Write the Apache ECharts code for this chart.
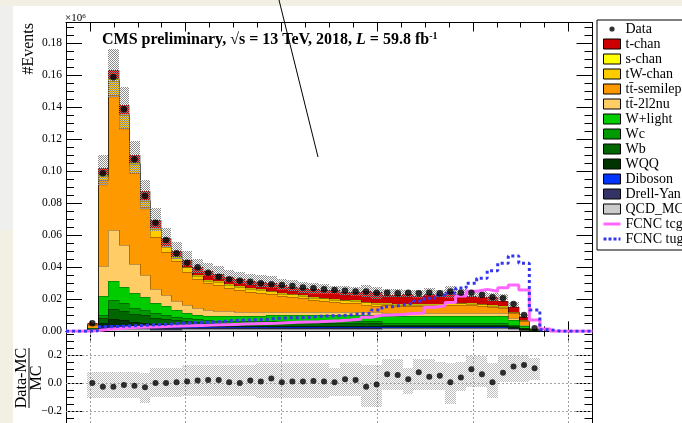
<!DOCTYPE html>
<html>
<head>
<meta charset="utf-8">
<title>#Events</title>
<script src="https://cdn.jsdelivr.net/npm/echarts@6.0.0/dist/echarts.min.js"></script>
<style>
  html, body { margin: 0; padding: 0; background: #ffffff; overflow: hidden; }
  #chart { width: 682px; height: 423px; }
</style>
</head>
<body>
<div id="chart"></div>
<script>
// ---------------- binning ----------------
const xMin = -0.05;
const xMax = 1.05;
const nBins = 50;

// ---------------- tick labels ----------------
const xMajorTicks = [0, 0.2, 0.4, 0.6, 0.8, 1.0];
const yMainMax = 0.193;                 // upper panel, units of 10^6 events
const ratioMin = -0.2857;               // lower panel range (its lower edge is below the page)
const ratioMax = 0.3679;
const ratioTicks = [-0.2, 0, 0.2];
const ratioMinorTicks = [-0.25, -0.2, -0.15, -0.1, -0.05, 0, 0.05, 0.1, 0.15, 0.2, 0.25, 0.3, 0.35];

// ---------------- stacked backgrounds (10^6 events per bin) ----------------
const qcdMC = [0,0, .0003,.0012,.0015,.0014,.0013,.0012,.0011,.0011,.0011,.0012,.0013,.0014,.0015,.0015,.0015,.0015,.0015,.0015,
  .0015,.0015,.0015,.0015,.0015,.0015,.0015,.0015,.0015,.0015,
  .0018,.0018,.0018,.0018,.0018,.0018,.0018,.0018,.0018,.0018,.0018,.0018,
  .0015,.0008,.0002, 0,0,0,0,0];
const drellYan = [0,0, .0002,.0015,.0020,.0018,.0015,.0014,.0012,.0011,.0010,.0009,.0008,.0007,.0007,.0006,.0006,.0006,.0006,.0006,
  .0006,.0006,.0006,.0006,.0006,.0006,.0006,.0006,.0006,.0006,
  .0004,.0004,.0004,.0004,.0004,.0004,.0004,.0004,.0004,.0004,.0004,.0004,
  .0003,.0002,0, 0,0,0,0,0];
const diboson = [0,0, .0001,.0004,.0006,.0005,.0005,.0005,.0004,.0004,.0004,.0004,.0004,.0003,.0003,.0003,.0003,.0003,.0003,.0003,
  .0003,.0003,.0003,.0003,.0003,.0003,.0003,.0003,.0003,.0003,
  .0002,.0002,.0002,.0002,.0002,.0002,.0002,.0002,.0002,.0002,.0002,.0002,
  .0001,.0001,0, 0,0,0,0,0];
const wQQ = [0,0, .0003,.0020,.0035,.0031,.0027,.0024,.0020,.0018,.0015,.0013,.0011,.0011,.0010,.0010,.0010,.0010,.0010,.0010,
  .0010,.0010,.0010,.0010,.0010,.0010,.0010,.0010,.0010,.0010,
  .0008,.0008,.0008,.0008,.0008,.0008,.0008,.0008,.0008,.0008,.0008,.0008,
  .0007,.0004,.0001, 0,0,0,0,0];
const wB = [0,0, .0003,.0030,.0065,.0060,.0048,.0045,.0038,.0034,.0029,.0025,.0022,.0020,.0018,.0017,.0016,.0016,.0016,.0016,
  .0016,.0016,.0016,.0016,.0016,.0016,.0016,.0016,.0016,.0016,
  .0010,.0010,.0010,.0010,.0010,.0010,.0010,.0010,.0010,.0010,.0010,.0010,
  .0007,.0004,.0001, 0,0,0,0,0];
const wC = [0,0, .0002,.0021,.0055,.0047,.0036,.0033,.0027,.0024,.0020,.0018,.0016,.0015,.0014,.0014,.0014,.0014,.0014,.0014,
  .0014,.0014,.0014,.0014,.0014,.0014,.0014,.0014,.0014,.0014,
  .0008,.0008,.0008,.0008,.0008,.0008,.0008,.0008,.0008,.0008,.0008,.0008,
  .0006,.0003,.0001, 0,0,0,0,0];
const wLight = [0,0, .0004,.0120,.0118,.0104,.0097,.0083,.0063,.0056,.0044,.0035,.0028,.0026,.0028,.0028,.0030,.0032,.0034,.0036,
  .0038,.0038,.0038,.0038,.0038,.0038,.0038,.0038,.0038,.0038,
  .0046,.0046,.0046,.0046,.0046,.0046,.0046,.0046,.0046,.0046,.0046,.0046,
  .0032,.0010,.0002, 0,0,0,0,0];
const ttDilep = [0,0, .0004,.0188,.0319,.0260,.0178,.0136,.0087,.0069,.0058,.0048,.0042,.0037,.0035,.0031,.0028,.0026,.0024,.0022,
  .0021,.0021,.0021,.0021,.0021,.0021,.0021,.0021,.0021,.0021,
  .0017,.0017,.0017,.0017,.0017,.0017,.0017,.0017,.0017,.0017,.0017,.0017,
  .0010,.0008,.0001, 0,0,0,0,0];
const ttSemilep = [0,0, .0020,.0536,.0844,.0730,.0569,.0423,.0329,.0270,.0248,.0209,.0183,.0167,.0158,.0146,.0138,.0123,.0117,.0112,
  .0095,.0092,.0084,.0072,.0067,.0059,.0055,.0052,.0042,.0034,
  .0050,.0045,.0044,.0044,.0045,.0045,.0053,.0054,.0050,.0046,.0039,.0033,
  .0032,.0027,.0005, 0,0,0,0,0];
const tWchan = [0,0, .0003,.0025,.0090,.0080,.0055,.0040,.0047,.0031,.0022,.0026,.0020,.0016,.0020,.0020,.0016,.0018,.0020,.0016,
  .0016,.0016,.0016,.0016,.0016,.0016,.0016,.0016,.0016,.0016,
  .0009,.0009,.0009,.0009,.0009,.0009,.0009,.0009,.0009,.0009,.0009,.0009,
  .0005,.0003,.0001, 0,0,0,0,0];
const sChan = [0,0, .0001,.0006,.0010,.0009,.0007,.0006,.0006,.0005,.0005,.0005,.0005,.0005,.0005,.0005,.0005,.0005,.0005,.0005,
  .0004,.0004,.0004,.0004,.0004,.0004,.0004,.0004,.0004,.0004,
  .0003,.0003,.0003,.0003,.0003,.0003,.0003,.0003,.0003,.0003,.0003,.0003,
  .0001,.0001,0, 0,0,0,0,0];
const tChan = [0,0, .0004,.0043,.0056,.0056,.0050,.0058,.0052,.0048,.0039,.0042,.0048,.0059,.0048,.0043,.0047,.0049,.0047,.0049,
  .0050,.0045,.0043,.0050,.0050,.0055,.0050,.0048,.0070,.0066,
  .0052,.0055,.0066,.0052,.0061,.0056,.0069,.0053,.0044,.0043,.0048,.0034,
  .0034,.0019,.0003, 0,0,0,0,0];

// ---------------- signals (drawn as lines) ----------------
const fcncTcg = [0,0, .0004,.0012,.0018,.0022,.0025,.0027,.0029,.0031,.0033,.0035,.0037,.0039,.0041,.0043,.0045,.0047,.0049,.0051,
  .0054,.0056,.0058,.0060,.0063,.0066,.0070,.0075,.0088,.0100,
  .0102,.0105,.0112,.0115,.0150,.0160,.0180,.0220,.0250,.0262,.0250,.0272,
  .0289,.0258,.0071,.0014, 0,0,0,0];
const fcncTug = [0,0, .0003,.0028,.0030,.0033,.0036,.0039,.0042,.0046,.0050,.0054,.0056,.0058,.0062,.0068,.0070,.0072,.0074,.0081,
  .0084,.0085,.0086,.0094,.0096,.0098,.0102,.0110,.0113,.0133,
  .0154,.0165,.0175,.0190,.0206,.0227,.0240,.0270,.0300,.0331,.0379,.0425,
  .0471,.0425,.0133,.0010, 0,0,0,0];

// ---------------- data ----------------
const dataEvents = [null,null, .0050,.0988,.1588,.1388,.1075,.0846,.0679,.0571,.0488,.0429,.0400,.0366,.0341,.0325,.0316,.0310,.0300,.0294,
  .0289,.0283,.0273,.0269,.0263,.0258,.0254,.0248,.0248,.0241,
  .0241,.0238,.0241,.0238,.0241,.0238,.0248,.0241,.0241,.0227,.0213,.0206,
  .0171,.0102,.0019, null,null,null,null,null];

// ---------------- ratio panel ----------------
const ratioValues = [null,null, 0.0,-0.026,-0.026,-0.014,-0.020,-0.031,0.0,0.0,0.005,0.010,0.017,0.021,0.021,0.005,0.0,0.017,0.010,0.033,
  0.005,0.010,0.010,0.014,0.010,0.006,0.026,0.021,-0.026,-0.010,
  0.062,0.057,0.026,0.076,0.045,0.052,0.005,0.040,0.098,0.062,0.005,0.074,
  0.117,0.129,0.105, null,null,null,null,null];
const ratioBandHi = [null,null, .081,.081,.081,.081,.081,.074,.11,.11,.11,.13,.13,.13,.13,.13,.13,.13,.14,.14,
  .14,.14,.14,.14,.14,.11,.14,.14,.13,.13,
  .17,.17,.11,.17,.17,.15,.14,.15,.19,.19,.14,.20,
  .20,.20,.18, null,null,null,null,null];
const ratioBandLo = [null,null, -.109,-.109,-.109,-.109,-.109,-.14,-.10,-.10,-.10,-.09,-.09,-.09,-.09,-.09,-.09,-.09,-.11,-.11,
  -.11,-.11,-.11,-.11,-.11,-.095,-.09,-.09,-.17,-.17,
  -.05,-.05,-.08,-.05,-.05,-.05,-.15,-.06,-.03,-.03,-.11,.01,
  .01,.01,.02, null,null,null,null,null];

// ---------------- derived tables for the library ----------------
const binW = (xMax - xMin) / nBins;
const edges = Array.from({ length: nBins + 1 }, (_, i) => +(xMin + i * binW).toFixed(5));
const centers = edges.slice(0, nBins).map((e, i) => (e + edges[i + 1]) / 2);

const stackOrder = [
  { name: 'QCD_MC',       color: '#cccccc', values: qcdMC },
  { name: 'Drell-Yan',    color: '#333366', values: drellYan },
  { name: 'Diboson',      color: '#0033ff', values: diboson },
  { name: 'WQQ',          color: '#003300', values: wQQ },
  { name: 'Wb',           color: '#006600', values: wB },
  { name: 'Wc',           color: '#009900', values: wC },
  { name: 'W+light',      color: '#00cc00', values: wLight },
  { name: 'tt\u0304-2l2nu',   color: '#ffcc66', values: ttDilep },
  { name: 'tt\u0304-semilep', color: '#ff9900', values: ttSemilep },
  { name: 'tW-chan',      color: '#ffcc00', values: tWchan },
  { name: 's-chan',       color: '#ffff00', values: sChan },
  { name: 't-chan',       color: '#cc0000', values: tChan }
];

let running = new Array(nBins).fill(0);
const layers = stackOrder.map(s => {
  const lo = running.slice();
  const hi = running.map((b, i) => b + s.values[i]);
  running = hi;
  return Object.assign({ lo, hi }, s);
});
const totalMC = running;
const filledBins = totalMC.map((v, i) => (v > 0 ? i : -1)).filter(i => i >= 0);

function dotPattern(color) {
  const cv = document.createElement('canvas');
  cv.width = 2; cv.height = 2;
  const ctx = cv.getContext('2d');
  ctx.fillStyle = color;
  ctx.fillRect(0, 0, 1, 1);
  ctx.fillRect(1, 1, 1, 1);
  return { image: cv, repeat: 'repeat' };
}
const mainBandFill = dotPattern('#8a8a8a');
const ratioBandFill = dotPattern('#bdbdbd');

function stepLine(vals) {
  const pts = [];
  for (let i = 0; i < nBins; i++) {
    pts.push([edges[i], vals[i]], [edges[i + 1], vals[i]]);
  }
  return pts;
}

function rectItem(api, x0, x1, y0, y1, fill) {
  const a = api.coord([x0, y1]);
  const b = api.coord([x1, y0]);
  const L = Math.round(a[0]), R = Math.round(b[0]);
  const T = Math.round(a[1]), B = Math.round(b[1]);
  return { type: 'rect', shape: { x: L, y: T, width: R - L, height: B - T }, style: { fill } };
}

const serif = 'Liberation Serif, "DejaVu Serif", serif';

// ---------------- series ----------------
const series = [];

layers.forEach(layer => {
  const d = [];
  for (let i = 0; i < nBins; i++) {
    if (layer.hi[i] > layer.lo[i]) d.push([edges[i], edges[i + 1], layer.lo[i], layer.hi[i]]);
  }
  series.push({
    type: 'custom', name: layer.name, xAxisIndex: 0, yAxisIndex: 0, z: 2,
    itemStyle: { color: layer.color },
    encode: { x: [0, 1], y: [2, 3] },
    data: d, silent: true, animation: false, clip: true,
    renderItem: (params, api) => rectItem(api, api.value(0), api.value(1), api.value(2), api.value(3), layer.color)
  });
});

// histogram contours of each stacked layer
series.push({
  type: 'custom', name: 'contours', xAxisIndex: 0, yAxisIndex: 0, z: 3,
  encode: { x: [0, 1] }, silent: true, animation: false,
  data: filledBins.map(i => [edges[i], edges[i + 1], i]),
  renderItem: (params, api) => {
    const i = api.value(2);
    const children = [];
    layers.forEach(layer => {
      const top = layer.hi[i];
      const prev = i > 0 ? layer.hi[i - 1] : 0;
      const pP = api.coord([edges[i], prev]);
      const pL = api.coord([edges[i], top]);
      const pR = api.coord([edges[i + 1], top]);
      const r = v => Math.round(v) + 0.5;
      children.push({
        type: 'polyline',
        shape: { points: [[r(pP[0]), r(pP[1])], [r(pL[0]), r(pL[1])], [r(pR[0]), r(pR[1])]] },
        style: { stroke: 'rgba(0,0,0,0.28)', lineWidth: 1, fill: null }
      });
    });
    return { type: 'group', children };
  }
});

// MC uncertainty band on the stack
series.push({
  type: 'custom', name: 'mcUnc', xAxisIndex: 0, yAxisIndex: 0, z: 4,
  encode: { x: [0, 1], y: [2, 3] }, silent: true, animation: false,
  data: filledBins.filter(i => ratioBandHi[i] != null)
    .map(i => [edges[i], edges[i + 1], totalMC[i] * (1 + ratioBandLo[i]), totalMC[i] * (1 + ratioBandHi[i])]),
  renderItem: (params, api) => rectItem(api, api.value(0), api.value(1), api.value(2), api.value(3), mainBandFill)
});

series.push({
  type: 'line', name: 'FCNC tcg', xAxisIndex: 0, yAxisIndex: 0, z: 5,
  data: stepLine(fcncTcg), symbol: 'none', showSymbol: false, animation: false,
  itemStyle: { color: '#ff66ff' },
  lineStyle: { color: '#ff66ff', width: 3 }
});
series.push({
  type: 'line', name: 'FCNC tug', xAxisIndex: 0, yAxisIndex: 0, z: 5,
  data: stepLine(fcncTug), symbol: 'none', showSymbol: false, animation: false,
  itemStyle: { color: '#3535ee' },
  lineStyle: { color: '#3535ee', width: 3, type: [3, 3] }
});

series.push({
  type: 'scatter', name: 'Data', xAxisIndex: 0, yAxisIndex: 0, z: 6,
  symbolSize: 6.5, itemStyle: { color: '#000' }, animation: false, silent: true,
  data: centers.map((c, i) => [c, dataEvents[i]]).filter(p => p[1] != null)
});

// ratio panel: dashed reference grid
series.push({
  type: 'line', name: 'ratioGrid', xAxisIndex: 4, yAxisIndex: 4, z: 1,
  data: [[0.5, 0]], symbol: 'none', lineStyle: { width: 0 }, silent: true, animation: false,
  markLine: {
    symbol: ['none', 'none'], silent: true, animation: false,
    label: { show: false },
    lineStyle: { color: '#a0a0a0', type: [2, 2], width: 1 },
    data: ratioTicks.map(v => ({ yAxis: v })).concat(xMajorTicks.map(v => ({ xAxis: v })))
  }
});
series.push({
  type: 'custom', name: 'ratioUnc', xAxisIndex: 4, yAxisIndex: 4, z: 2,
  encode: { x: [0, 1], y: [2, 3] }, silent: true, animation: false,
  data: centers.map((c, i) => [edges[i], edges[i + 1], ratioBandLo[i], ratioBandHi[i]]).filter(p => p[2] != null),
  renderItem: (params, api) => rectItem(api, api.value(0), api.value(1), api.value(2), api.value(3), ratioBandFill)
});
series.push({
  type: 'scatter', name: 'ratio', xAxisIndex: 4, yAxisIndex: 4, z: 6,
  symbolSize: 6, itemStyle: { color: '#000' }, animation: false, silent: true,
  data: centers.map((c, i) => [c, ratioValues[i]]).filter(p => p[1] != null)
});

// ---------------- axes ----------------
function xAxisDef(grid, position, len, major, showLine) {
  const ax = {
    type: 'value', gridIndex: grid, position, min: xMin, max: xMax,
    axisLine: { show: showLine, onZero: false, lineStyle: { color: '#000', width: 1 } },
    axisTick: { show: true, inside: true, length: len, lineStyle: { color: '#000', width: 1 } },
    axisLabel: { show: false },
    splitLine: { show: false }
  };
  if (major) ax.axisTick.customValues = xMajorTicks;
  else ax.interval = 0.05;
  return ax;
}
function yAxisDef(grid, position, opts) {
  return Object.assign({
    type: 'value', gridIndex: grid, position,
    axisLine: { show: false, onZero: false, lineStyle: { color: '#000', width: 1 } },
    axisLabel: { show: false },
    splitLine: { show: false }
  }, opts);
}
const tickLabel = { fontFamily: serif, fontSize: 11.5, color: '#000', margin: 4 };
const blackLine = { show: true, onZero: false, lineStyle: { color: '#000' } };

const xAxis = [
  xAxisDef(0, 'bottom', 10, true, true),
  xAxisDef(0, 'bottom', 5, false, false),
  xAxisDef(0, 'top', 9, true, true),
  xAxisDef(0, 'top', 5, false, false),
  xAxisDef(1, 'top', 9, true, true),
  xAxisDef(1, 'top', 5, false, false)
];
const yAxis = [
  yAxisDef(0, 'left', { min: 0, max: yMainMax, interval: 0.02, axisLine: blackLine,
    axisTick: { inside: true, length: 16, lineStyle: { color: '#000' } },
    axisLabel: Object.assign({ show: true, showMaxLabel: false, formatter: v => v.toFixed(2) }, tickLabel) }),
  yAxisDef(0, 'left', { min: 0, max: yMainMax, interval: 0.005,
    axisTick: { inside: true, length: 8, lineStyle: { color: '#000' } } }),
  yAxisDef(0, 'right', { min: 0, max: yMainMax, interval: 0.02, axisLine: blackLine,
    axisTick: { inside: true, length: 16, lineStyle: { color: '#000' } } }),
  yAxisDef(0, 'right', { min: 0, max: yMainMax, interval: 0.005,
    axisTick: { inside: true, length: 8, lineStyle: { color: '#000' } } }),
  yAxisDef(1, 'left', { min: ratioMin, max: ratioMax, axisLine: blackLine,
    axisTick: { inside: true, length: 16, customValues: ratioTicks, lineStyle: { color: '#000' } },
    axisLabel: Object.assign({ show: true, customValues: ratioTicks,
      formatter: v => (v < 0 ? '\u2212' : '') + Math.abs(v).toFixed(1) }, tickLabel) }),
  yAxisDef(1, 'left', { min: ratioMin, max: ratioMax,
    axisTick: { inside: true, length: 8, customValues: ratioMinorTicks, lineStyle: { color: '#000' } } }),
  yAxisDef(1, 'right', { min: ratioMin, max: ratioMax, axisLine: blackLine,
    axisTick: { inside: true, length: 16, customValues: ratioTicks, lineStyle: { color: '#000' } } }),
  yAxisDef(1, 'right', { min: ratioMin, max: ratioMax,
    axisTick: { inside: true, length: 8, customValues: ratioMinorTicks, lineStyle: { color: '#000' } } })
];

// ---------------- legend ----------------
const dotIcon = 'image://data:image/svg+xml;charset=utf-8,' + encodeURIComponent(
  '<svg xmlns="http://www.w3.org/2000/svg" width="17" height="10"><circle cx="8.5" cy="5" r="2.6" fill="#000"/></svg>');
const boxed = { borderColor: '#000', borderWidth: 1 };
const legendData = [{ name: 'Data', icon: dotIcon }]
  .concat(stackOrder.slice().reverse().map(s => ({ name: s.name, icon: 'rect', itemStyle: boxed })))
  .concat([
    { name: 'FCNC tcg', icon: 'path://M0,0h17v3h-17z' },
    { name: 'FCNC tug', icon: 'path://M0,0h3v3h-3zM5,0h3v3h-3zM10,0h3v3h-3zM15,0h2v3h-2z' }
  ]);

// ---------------- page decoration ----------------
const graphic = [
  { type: 'rect', z: -10, shape: { x: 0, y: 0, width: 682, height: 6 }, style: { fill: '#f2f0e2' } },
  { type: 'rect', z: -10, shape: { x: 0, y: 0, width: 13, height: 423 }, style: { fill: '#f2f0e2' } },
  { type: 'rect', z: -9, shape: { x: 0, y: 6, width: 13, height: 224 }, style: { fill: '#efefed' } },
  {
    type: 'text', x: 102, y: 40, z: 20,
    style: {
      text: '{b|CMS preliminary, \u221As = 13 TeV, 2018, }{bi|L}{b| = 59.8 fb}{sup|-1}',
      verticalAlign: 'middle',
      rich: {
        b: { fontFamily: serif, fontWeight: 'bold', fontSize: 16, lineHeight: 18, fill: '#000' },
        bi: { fontFamily: serif, fontWeight: 'bold', fontStyle: 'italic', fontSize: 16, lineHeight: 18, fill: '#000' },
        sup: { fontFamily: serif, fontWeight: 'bold', fontSize: 10, verticalAlign: 'top', fill: '#000' }
      }
    }
  },
  {
    type: 'text', x: 65, y: 18, z: 20,
    style: {
      text: '\u00d710{s|6}', verticalAlign: 'middle', fontFamily: serif, fontSize: 11, fill: '#000',
      rich: { s: { fontFamily: serif, fontSize: 7, verticalAlign: 'top', fill: '#000' } }
    }
  },
  {
    type: 'text', x: 29, y: 23, rotation: Math.PI / 2, z: 20,
    style: { text: '#Events', align: 'right', verticalAlign: 'middle', fontFamily: serif, fontSize: 16, fill: '#000' }
  },
  {
    type: 'group', x: 28.5, y: 378, rotation: Math.PI / 2, z: 20,
    children: [
      { type: 'text', x: 0, y: -7, style: { text: 'Data-MC', align: 'center', verticalAlign: 'middle', fontFamily: serif, fontSize: 16, fill: '#000' } },
      { type: 'line', shape: { x1: -30, y1: 0.5, x2: 30, y2: 0.5 }, style: { stroke: '#000', lineWidth: 1 } },
      { type: 'text', x: 0, y: 8, style: { text: 'MC', align: 'center', verticalAlign: 'middle', fontFamily: serif, fontSize: 16, fill: '#000' } }
    ]
  },
  { type: 'line', z: 30, shape: { x1: 279, y1: 0, x2: 318, y2: 157 }, style: { stroke: '#000', lineWidth: 1 } }
];

const chart = echarts.init(document.getElementById('chart'), null, { renderer: 'canvas' });
chart.setOption({
  animation: false,
  backgroundColor: '#ffffff',
  grid: [
    { left: 66, top: 22.5, width: 526.5, height: 308.8, containLabel: false },
    { left: 66, top: 331.5, width: 526.5, height: 91.5, containLabel: false }
  ],
  xAxis, yAxis, series, graphic,
  legend: {
    data: legendData,
    orient: 'vertical', left: 597, top: 20,
    padding: [1.5, 4, 3.5, 6],
    itemGap: 0, itemWidth: 17, itemHeight: 10,
    backgroundColor: '#ffffff', borderColor: '#000', borderWidth: 1,
    selectedMode: false,
    textStyle: { fontFamily: serif, fontSize: 14, color: '#000', lineHeight: 15 }
  }
});
</script>
</body>
</html>
